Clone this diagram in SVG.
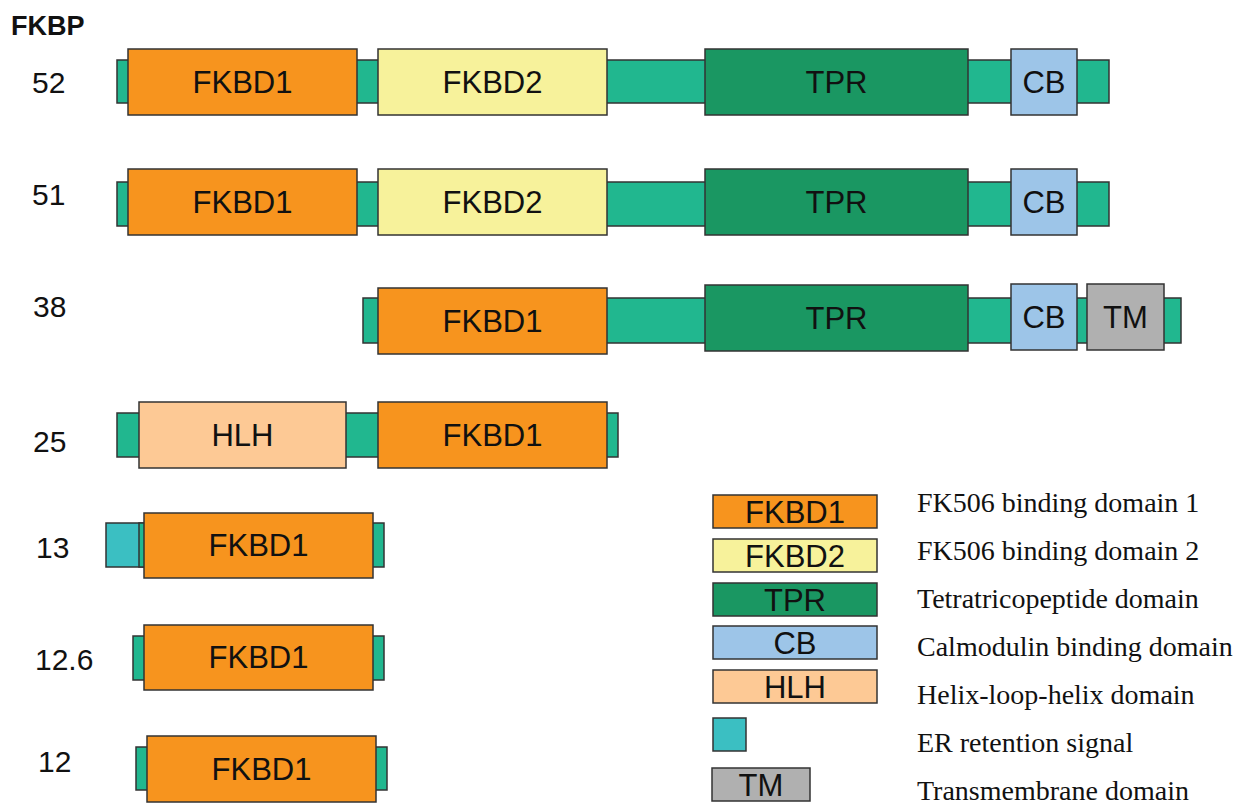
<svg xmlns="http://www.w3.org/2000/svg" width="1248" height="805" viewBox="0 0 1248 805">
  <style>
    .bb { fill: #21B78F; stroke: #333; stroke-width: 1.5; }
    .er { fill: #3BBFC2; stroke: #333; stroke-width: 1.5; }
    .d1 { fill: #F7941E; stroke: #333; stroke-width: 1.5; }
    .d2 { fill: #F7F29B; stroke: #333; stroke-width: 1.5; }
    .tpr { fill: #1A9762; stroke: #333; stroke-width: 1.5; }
    .cb { fill: #9DC5E8; stroke: #333; stroke-width: 1.5; }
    .hlh { fill: #FDC995; stroke: #333; stroke-width: 1.5; }
    .tm { fill: #B0B0B0; stroke: #333; stroke-width: 1.5; }
    .lbl { font-family: "Liberation Sans", Arial, sans-serif; font-size: 31px; fill: #111; text-anchor: middle; }
    .num { font-family: "Liberation Sans", Arial, sans-serif; font-size: 30px; fill: #111; }
    .leg { font-family: "Liberation Serif", "Times New Roman", serif; font-size: 28px; fill: #111; }
    .title { font-family: "Liberation Sans", Arial, sans-serif; font-size: 27px; font-weight: bold; fill: #111; }
  </style>

  <text class="title" x="11" y="35">FKBP</text>

  <!-- FKBP52 -->
  <g id="fkbp52">
    <text class="num" x="32" y="93">52</text>
    <rect class="bb" x="117" y="60" width="992" height="43"/>
    <rect class="d1" x="128" y="49" width="229" height="66"/>
    <text class="lbl" x="242.5" y="93">FKBD1</text>
    <rect class="d2" x="378" y="49" width="229" height="66"/>
    <text class="lbl" x="492.5" y="93">FKBD2</text>
    <rect class="tpr" x="705" y="49" width="263" height="66"/>
    <text class="lbl" x="836.5" y="93">TPR</text>
    <rect class="cb" x="1011" y="49" width="66" height="66"/>
    <text class="lbl" x="1044" y="93">CB</text>
  </g>

  <!-- FKBP51 -->
  <g id="fkbp51">
    <text class="num" x="32" y="205">51</text>
    <rect class="bb" x="117" y="182" width="992" height="44"/>
    <rect class="d1" x="128" y="169" width="229" height="66"/>
    <text class="lbl" x="242.5" y="213">FKBD1</text>
    <rect class="d2" x="378" y="169" width="229" height="66"/>
    <text class="lbl" x="492.5" y="213">FKBD2</text>
    <rect class="tpr" x="705" y="169" width="263" height="66"/>
    <text class="lbl" x="836.5" y="213">TPR</text>
    <rect class="cb" x="1011" y="169" width="66" height="66"/>
    <text class="lbl" x="1044" y="213">CB</text>
  </g>

  <!-- FKBP38 -->
  <g id="fkbp38">
    <text class="num" x="33" y="317">38</text>
    <rect class="bb" x="363" y="298" width="818" height="45"/>
    <rect class="d1" x="378" y="288" width="229" height="66"/>
    <text class="lbl" x="492.5" y="332">FKBD1</text>
    <rect class="tpr" x="705" y="285" width="263" height="66"/>
    <text class="lbl" x="836.5" y="329">TPR</text>
    <rect class="cb" x="1011" y="284" width="66" height="66"/>
    <text class="lbl" x="1044" y="328">CB</text>
    <rect class="tm" x="1087" y="284" width="77" height="66"/>
    <text class="lbl" x="1125.5" y="328">TM</text>
  </g>

  <!-- FKBP25 -->
  <g id="fkbp25">
    <text class="num" x="33" y="452">25</text>
    <rect class="bb" x="117" y="413" width="501" height="44"/>
    <rect class="hlh" x="139" y="402" width="207" height="66"/>
    <text class="lbl" x="242.5" y="446">HLH</text>
    <rect class="d1" x="378" y="402" width="229" height="66"/>
    <text class="lbl" x="492.5" y="446">FKBD1</text>
  </g>

  <!-- FKBP13 -->
  <g id="fkbp13">
    <text class="num" x="36" y="558">13</text>
    <rect class="er" x="106" y="523" width="38" height="44"/>
    <rect class="bb" x="139" y="523" width="245" height="44"/>
    <rect class="d1" x="144" y="513" width="229" height="65"/>
    <text class="lbl" x="258.5" y="556">FKBD1</text>
  </g>

  <!-- FKBP12.6 -->
  <g id="fkbp12-6">
    <text class="num" x="35" y="670">12.6</text>
    <rect class="bb" x="133" y="636" width="251" height="44"/>
    <rect class="d1" x="144" y="625" width="229" height="65"/>
    <text class="lbl" x="258.5" y="668">FKBD1</text>
  </g>

  <!-- FKBP12 -->
  <g id="fkbp12">
    <text class="num" x="38" y="772">12</text>
    <rect class="bb" x="136" y="747" width="251" height="43"/>
    <rect class="d1" x="147" y="736" width="229" height="66"/>
    <text class="lbl" x="261.5" y="780">FKBD1</text>
  </g>

  <!-- legend -->
  <g id="legend">
    <rect class="d1" x="713" y="495" width="164" height="33"/>
    <text class="lbl" x="795" y="523">FKBD1</text>
    <text class="leg" x="917" y="512">FK506 binding domain 1</text>

    <rect class="d2" x="713" y="539" width="164" height="33"/>
    <text class="lbl" x="795" y="567">FKBD2</text>
    <text class="leg" x="917" y="560">FK506 binding domain 2</text>

    <rect class="tpr" x="713" y="583" width="164" height="33"/>
    <text class="lbl" x="795" y="611">TPR</text>
    <text class="leg" x="917" y="608">Tetratricopeptide domain</text>

    <rect class="cb" x="713" y="626" width="164" height="33"/>
    <text class="lbl" x="795" y="654">CB</text>
    <text class="leg" x="917" y="656">Calmodulin binding domain</text>

    <rect class="hlh" x="713" y="670" width="164" height="33"/>
    <text class="lbl" x="795" y="698">HLH</text>
    <text class="leg" x="917" y="704">Helix-loop-helix domain</text>

    <rect class="er" x="713" y="718" width="33" height="33"/>
    <text class="leg" x="917" y="752">ER retention signal</text>

    <rect class="tm" x="712" y="768" width="98" height="33"/>
    <text class="lbl" x="761" y="796">TM</text>
    <text class="leg" x="917" y="800">Transmembrane domain</text>
  </g>
</svg>
